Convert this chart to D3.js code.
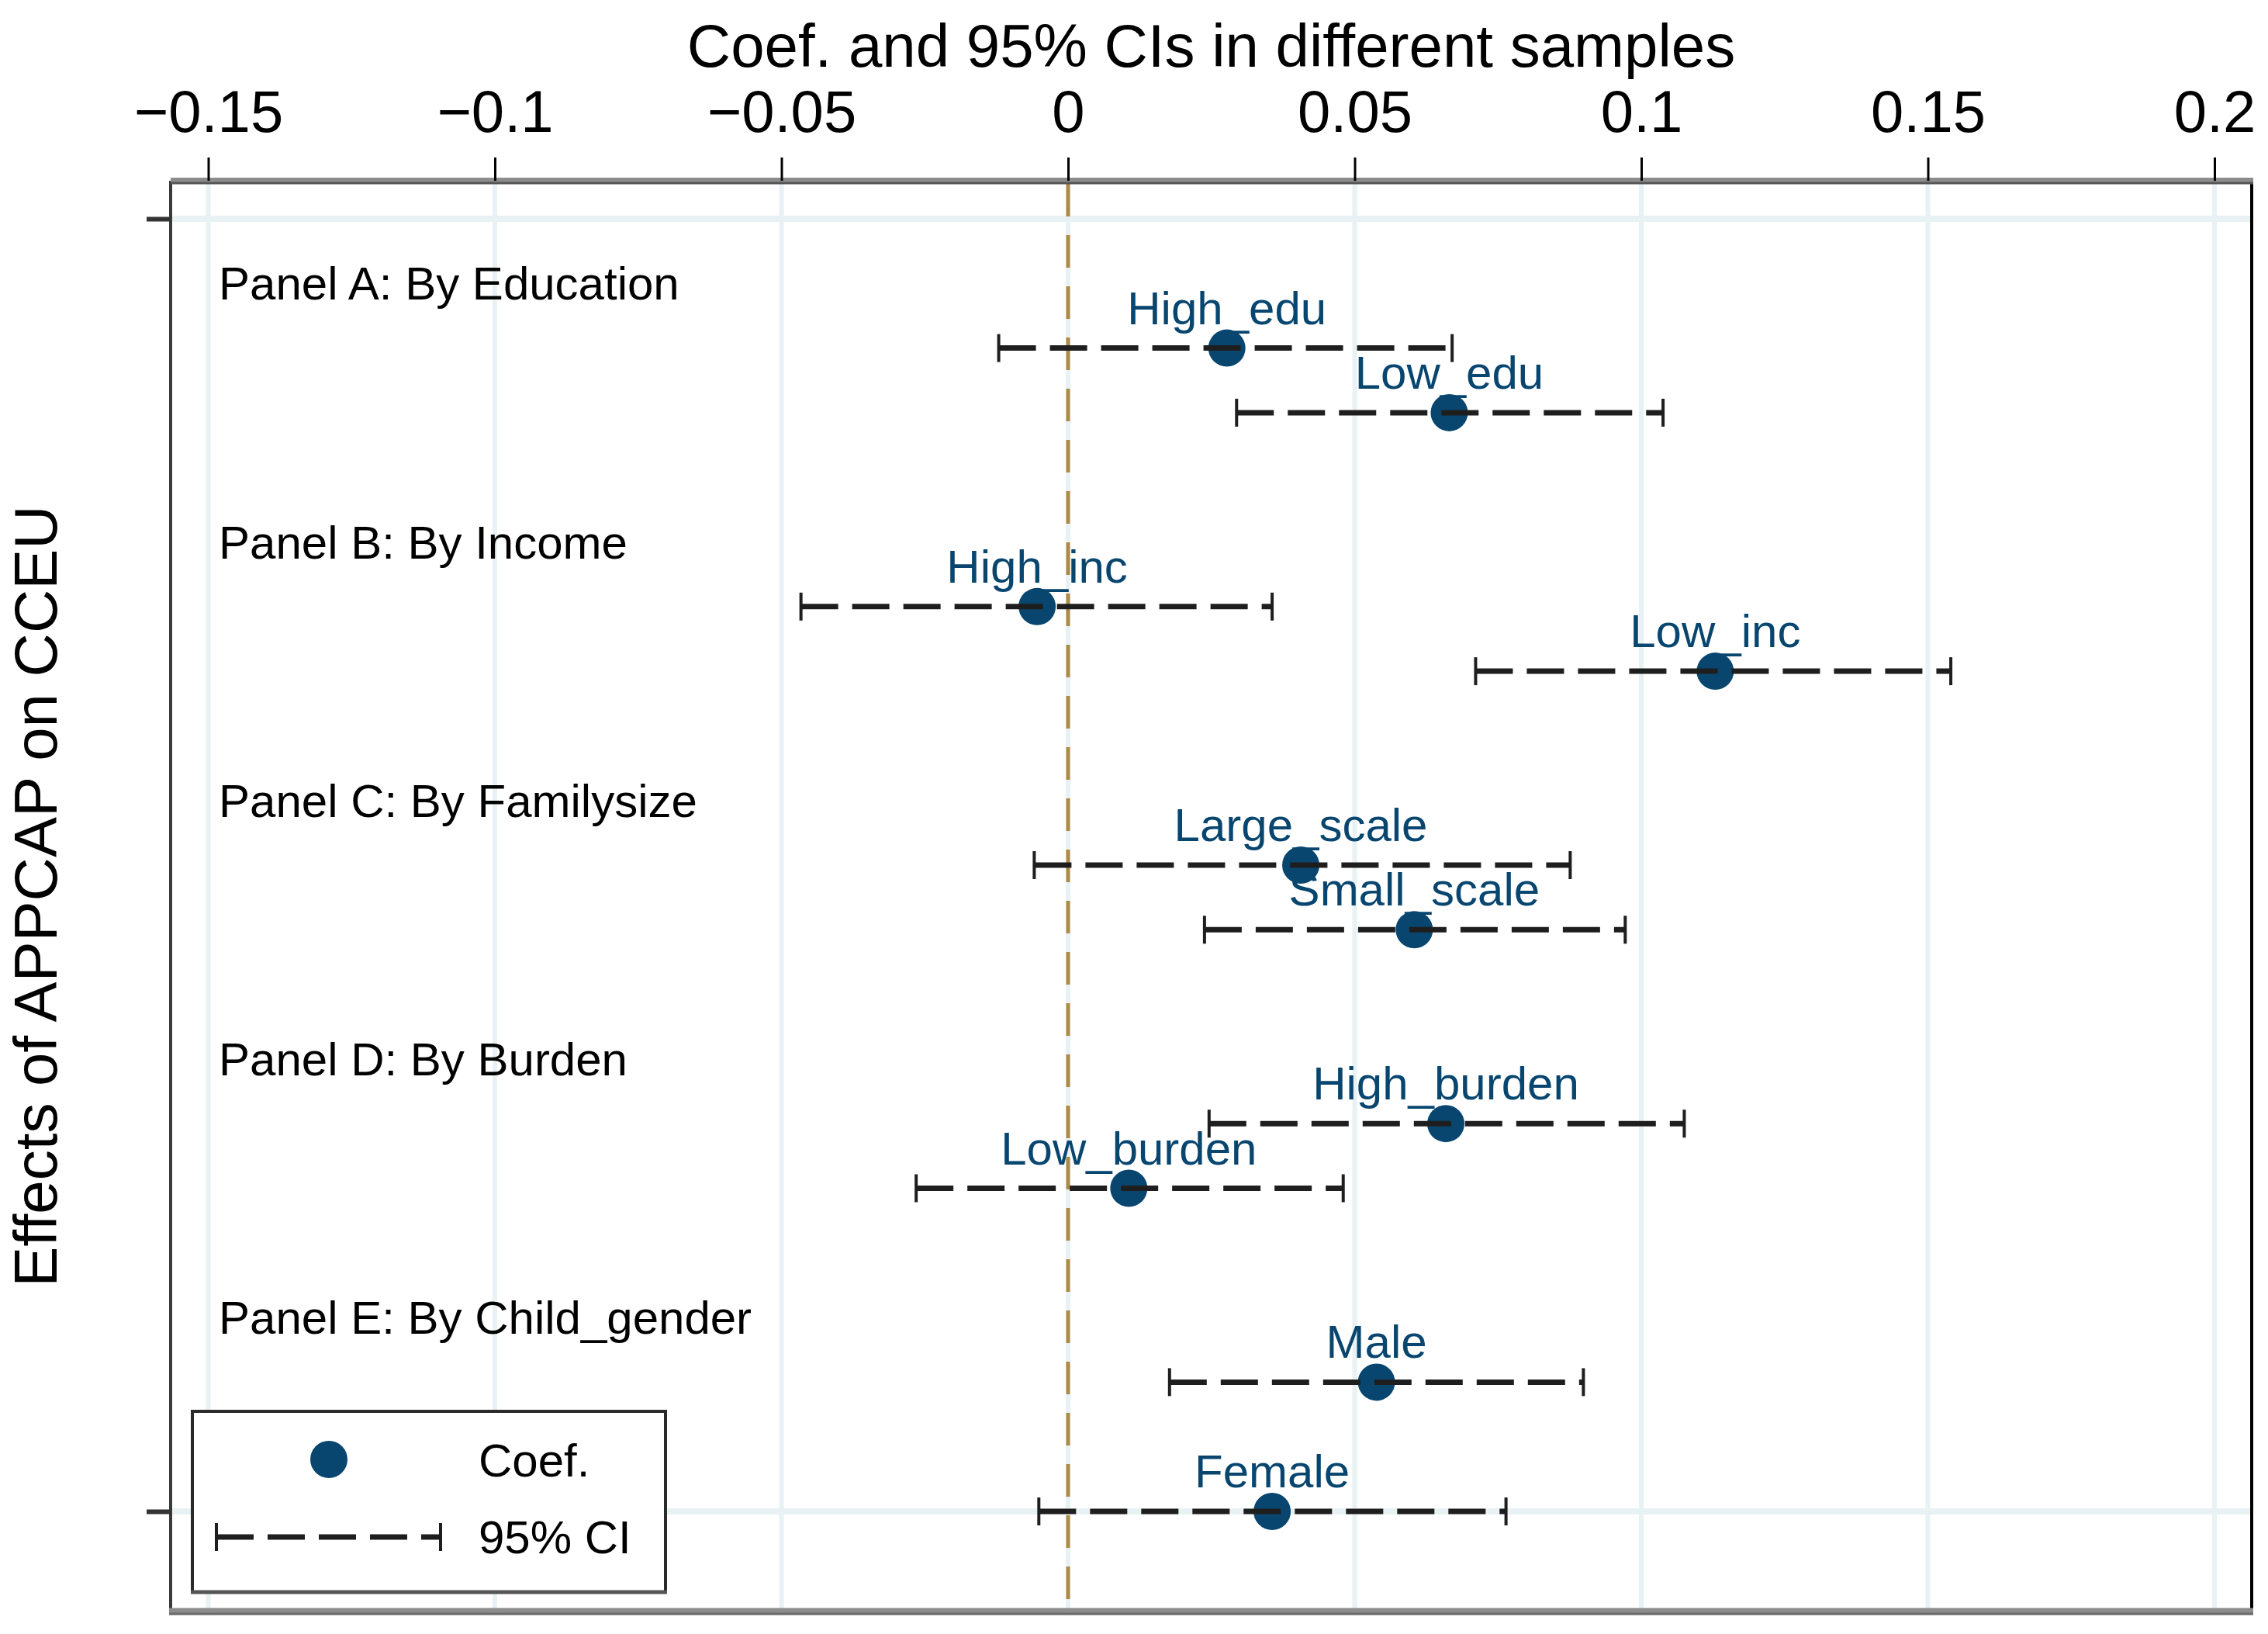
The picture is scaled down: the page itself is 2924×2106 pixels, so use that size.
<!DOCTYPE html>
<html>
<head>
<meta charset="utf-8">
<script src="https://cdn.jsdelivr.net/npm/d3@7"></script>
<style>
  body { margin: 0; background: #fff; }
  svg text { font-family: "Liberation Sans", Arial, sans-serif; }
</style>
</head>
<body>
<svg id="chart" width="2924" height="2106"></svg>
<script>
// estimates / CIs
var labels = ["High_edu", "Low_edu", "High_inc", "Low_inc", "Large_scale", "Small_scale",
              "High_burden", "Low_burden", "Male", "Female"];
var positions = [3, 4, 7, 8, 11, 12, 15, 16, 19, 21];
var coef   = [0.0277, 0.0665, -0.0054, 0.1129, 0.0406, 0.0604, 0.0659, 0.0106, 0.0538, 0.0356];
var ciLow  = [-0.0121, 0.0294, -0.0466, 0.0711, -0.0059, 0.0238, 0.0246, -0.0265, 0.0177, -0.0051];
var ciHigh = [0.0670, 0.1038, 0.0356, 0.1540, 0.0876, 0.0972, 0.1075, 0.0480, 0.0899, 0.0764];

var panels = ["Panel A: By Education", "Panel B: By Income", "Panel C: By Familysize",
              "Panel D: By Burden", "Panel E: By Child_gender"];
var panelPos = [2, 6, 10, 14, 18];

var xTicks = [-0.15, -0.1, -0.05, 0, 0.05, 0.1, 0.15, 0.2];
var yTicks = [1, 21];

var svg = d3.select("#chart");

// plot region
var pLeft = 220, pRight = 2903, pTop = 233, pBottom = 2077;

var x = d3.scaleLinear().domain([-0.15, 0.2]).range([268.5, 2855]);
var y = d3.scaleLinear().domain([1, 21]).range([282, 1948]);

var navy = "#08466f";

//---------gridlines
svg.append("g").selectAll("line.vg").data(xTicks).enter().append("line")
  .attr("x1", function(d){return x(d);}).attr("x2", function(d){return x(d);})
  .attr("y1", pTop).attr("y2", pBottom)
  .style("stroke", "#e8f1f3").style("stroke-width", 6);
svg.append("g").selectAll("line.hg").data(yTicks).enter().append("line")
  .attr("x1", pLeft).attr("x2", pRight)
  .attr("y1", function(d){return y(d);}).attr("y2", function(d){return y(d);})
  .style("stroke", "#e8f1f3").style("stroke-width", 8);

//---------zero reference line
svg.append("line")
  .attr("x1", x(0)).attr("x2", x(0))
  .attr("y1", pTop + 4).attr("y2", pBottom - 4)
  .style("stroke", "#ab8b45").style("stroke-width", 5)
  .style("stroke-dasharray", "42,24");

//---------frame
svg.append("line").attr("x1", pLeft).attr("x2", pLeft).attr("y1", pTop).attr("y2", pBottom)
  .style("stroke", "#3a3a3a").style("stroke-width", 4);
svg.append("line").attr("x1", pRight).attr("x2", pRight).attr("y1", pTop).attr("y2", pBottom + 4)
  .style("stroke", "#000").style("stroke-width", 4);
svg.append("line").attr("x1", pLeft).attr("x2", pRight + 2).attr("y1", pTop).attr("y2", pTop)
  .style("stroke", "#8c8c8c").style("stroke-width", 8);
svg.append("line").attr("x1", pLeft).attr("x2", pRight + 2).attr("y1", pTop + 3).attr("y2", pTop + 3)
  .style("stroke", "#555").style("stroke-width", 3);
svg.append("line").attr("x1", pLeft - 2).attr("x2", pRight + 2).attr("y1", pBottom).attr("y2", pBottom)
  .style("stroke", "#8c8c8c").style("stroke-width", 9);
svg.append("line").attr("x1", pLeft - 2).attr("x2", pRight + 2).attr("y1", pBottom + 3).attr("y2", pBottom + 3)
  .style("stroke", "#6c6c6c").style("stroke-width", 3);

//---------x axis on top
var xAxis = d3.axisTop(x).tickValues(xTicks).tickSize(30).tickPadding(33)
  .tickFormat(function(d){ return d3.format("~g")(d); });
var gx = svg.append("g").attr("transform", "translate(0," + pTop + ")").call(xAxis);
gx.select(".domain").remove();
gx.selectAll(".tick line").style("stroke", "#000").style("stroke-width", 3);
gx.selectAll(".tick text").style("font-size", "76px").style("fill", "#000")
  .attr("dy", 0);

//---------y axis (ticks only)
var yAxis = d3.axisLeft(y).tickValues(yTicks).tickSize(31).tickFormat("");
var gy = svg.append("g").attr("transform", "translate(" + pLeft + ",0)").call(yAxis);
gy.select(".domain").remove();
gy.selectAll(".tick line").style("stroke", "#333").style("stroke-width", 6);

//---------titles
svg.append("text").attr("x", (pLeft + pRight) / 2).attr("y", 86)
  .attr("text-anchor", "middle").style("font-size", "78px").style("fill", "#000")
  .text("Coef. and 95% CIs in different samples");
svg.append("text")
  .attr("transform", "translate(73," + (pTop + pBottom) / 2 + ") rotate(-90)")
  .attr("text-anchor", "middle").style("font-size", "78px").style("fill", "#000")
  .text("Effects of APPCAP on CCEU");

//---------panel headers
svg.append("g").selectAll("text").data(panels).enter().append("text")
  .attr("x", 282).attr("y", function(d, i){ return y(panelPos[i]) + 21; })
  .style("font-size", "60px").style("fill", "#000")
  .text(function(d){ return d; });

//---------points
var idx = d3.range(labels.length);
svg.append("g").selectAll("circle").data(idx).enter().append("circle")
  .attr("cx", function(i){ return x(coef[i]); })
  .attr("cy", function(i){ return y(positions[i]); })
  .attr("r", 24).style("fill", navy);

//---------CIs
var ci = svg.append("g");
ci.selectAll("line.ci").data(idx).enter().append("line")
  .attr("x1", function(i){ return x(ciLow[i]); })
  .attr("x2", function(i){ return x(ciHigh[i]); })
  .attr("y1", function(i){ return y(positions[i]); })
  .attr("y2", function(i){ return y(positions[i]); })
  .style("stroke", "#1e1e1e").style("stroke-width", 7).style("stroke-dasharray", "48,18");
ci.selectAll("line.capl").data(idx).enter().append("line")
  .attr("x1", function(i){ return x(ciLow[i]); }).attr("x2", function(i){ return x(ciLow[i]); })
  .attr("y1", function(i){ return y(positions[i]) - 18; })
  .attr("y2", function(i){ return y(positions[i]) + 18; })
  .style("stroke", "#1e1e1e").style("stroke-width", 4);
ci.selectAll("line.caph").data(idx).enter().append("line")
  .attr("x1", function(i){ return x(ciHigh[i]); }).attr("x2", function(i){ return x(ciHigh[i]); })
  .attr("y1", function(i){ return y(positions[i]) - 18; })
  .attr("y2", function(i){ return y(positions[i]) + 18; })
  .style("stroke", "#1e1e1e").style("stroke-width", 4);

//---------marker labels
svg.append("g").selectAll("text").data(idx).enter().append("text")
  .attr("x", function(i){ return x(coef[i]); })
  .attr("y", function(i){ return y(positions[i]) - 31; })
  .attr("text-anchor", "middle").style("font-size", "60px").style("fill", navy)
  .text(function(i){ return labels[i]; });

//---------legend
var lg = svg.append("g");
lg.append("rect").attr("x", 248).attr("y", 1819).attr("width", 610).attr("height", 233)
  .style("fill", "#fff").style("stroke", "#2a2a2a").style("stroke-width", 4);
lg.append("line").attr("x1", 246).attr("x2", 860).attr("y1", 2052).attr("y2", 2052)
  .style("stroke", "#555").style("stroke-width", 5);
lg.append("circle").attr("cx", 424).attr("cy", 1881).attr("r", 24).style("fill", navy);
lg.append("line").attr("x1", 279).attr("x2", 568).attr("y1", 1981).attr("y2", 1981)
  .style("stroke", "#1e1e1e").style("stroke-width", 7).style("stroke-dasharray", "48,18");
lg.append("line").attr("x1", 279).attr("x2", 279).attr("y1", 1963).attr("y2", 1999)
  .style("stroke", "#1e1e1e").style("stroke-width", 4);
lg.append("line").attr("x1", 568).attr("x2", 568).attr("y1", 1963).attr("y2", 1999)
  .style("stroke", "#1e1e1e").style("stroke-width", 4);
lg.append("text").attr("x", 617).attr("y", 1903).style("font-size", "60px").style("fill", "#000").text("Coef.");
lg.append("text").attr("x", 617).attr("y", 2002).style("font-size", "60px").style("fill", "#000").text("95% CI");
</script>
</body>
</html>
